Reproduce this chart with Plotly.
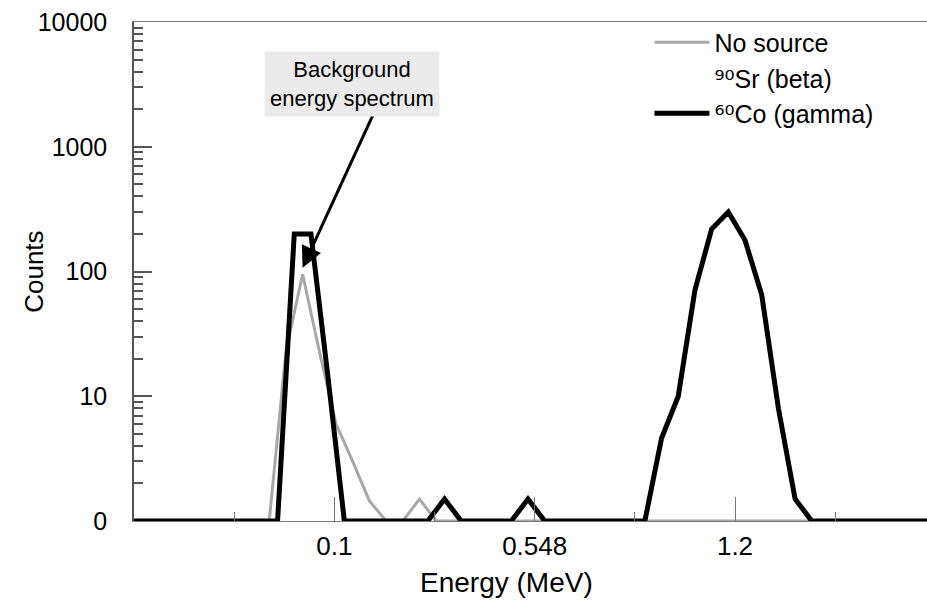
import plotly.graph_objects as go

# ---- data ----
# detector channel index for the 60Co spectrum
co_channels = [0, 1, 2, 3, 4, 5, 6, 7, 8, 9, 10, 11, 12, 13, 14, 15, 16, 17, 18, 19,
               20, 21, 22, 23, 24, 25, 26, 27, 28, 29, 30, 31, 32, 33, 34, 35, 36, 37,
               38, 39, 40, 41, 42, 43, 44, 45, 46, 47, 48]
co_counts = [0, 0, 0, 0, 0, 0, 0, 0, 0, 0, 200, 200, 15, 0, 0, 0, 0, 0, 0, 1.5,
             0, 0, 0, 0, 1.5, 0, 0, 0, 0, 0, 0, 0, 4.6, 10, 71, 219, 300, 178,
             65, 8, 1.5, 0, 0, 0, 0, 0, 0, 0, 0]

# no-source (background) spectrum, sampled half a channel offset
bg_channels = [-0.5, 0.5, 1.5, 2.5, 3.5, 4.5, 5.5, 6.5, 7.5, 8.5, 9.5, 10.5, 11.5,
               12.5, 13.5, 14.5, 15.5, 16.5, 17.5, 18.5, 19.5, 20.5, 21.5, 22.5,
               23.5, 24.5, 25.5, 26.5, 27.5, 28.5, 29.5, 30.5, 31.5, 32.5, 33.5,
               34.5, 35.5, 36.5, 37.5, 38.5, 39.5, 40.5, 41.5, 42.5, 43.5, 44.5,
               45.5, 46.5, 47.5]
bg_counts = [0, 0, 0, 0, 0, 0, 0, 0, 0, 0, 23, 95, 23, 6, 3, 1.45, 0, 0, 1.5,
             0, 0, 0, 0, 0, 0, 0, 0, 0, 0, 0, 0, 0, 0, 0, 0, 0, 0, 0, 0, 0, 0,
             0, 0, 0, 0, 0, 0, 0, 0]

SUP = "<span style='font-family:DejaVu Sans'>{}</span>"
series_names = ["No source", SUP.format("⁹⁰") + "Sr (beta)",
                SUP.format("⁶⁰") + "Co (gamma)"]

# axes
x_range = [0.4, 47.9]
x_tick_pos = [12.4, 24.4, 36.4]
x_tick_labels = ["0.1", "0.548", "1.2"]
x_minor_pos = [6.4, 18.4, 30.4, 42.4]
y_tick_vals = [1, 10, 100, 1000, 10000]
y_tick_labels = ["0", "10", "100", "1000", "10000"]
FLOOR = 1  # zero counts are drawn on the "0" baseline of the log axis

FONT = "Liberation Sans, Arial, Helvetica, sans-serif"


def floor(vals):
    return [v if v > FLOOR else FLOOR for v in vals]


fig = go.Figure()
fig.add_trace(go.Scatter(x=bg_channels, y=floor(bg_counts), mode="lines",
                         name=series_names[0],
                         line=dict(color="#a8a8a8", width=3)))
fig.add_trace(go.Scatter(x=[None], y=[None], mode="lines",
                         name=series_names[1],
                         line=dict(color="#ffffff", width=3)))
fig.add_trace(go.Scatter(x=co_channels, y=floor(co_counts), mode="lines",
                         name=series_names[2],
                         line=dict(color="#000000", width=5)))

minor_y = [m * 10 ** d for d in range(0, 4) for m in range(2, 10)]

fig.update_xaxes(range=x_range, tickmode="array", tickvals=x_tick_pos,
                 ticktext=x_tick_labels, ticks="inside", ticklen=24,
                 tickcolor="#777", tickwidth=1,
                 minor=dict(tickmode="array", tickvals=x_minor_pos,
                            ticks="inside", ticklen=9, tickcolor="#777"),
                 showline=True, linecolor="#777", linewidth=1, mirror=True,
                 showgrid=False, zeroline=False,
                 tickfont=dict(family=FONT, size=26, color="black"),
                 ticklabelstandoff=2)
fig.update_yaxes(type="log", range=[0, 4], tickmode="array",
                 tickvals=y_tick_vals, ticktext=y_tick_labels,
                 ticks="inside", ticklen=18, tickcolor="#555", tickwidth=1.5,
                 minor=dict(tickmode="array", tickvals=minor_y, ticks="inside",
                            ticklen=9, tickcolor="#555"),
                 showline=True, linecolor="#555", linewidth=1.5,
                 showgrid=False, zeroline=False,
                 tickfont=dict(family=FONT, size=25, color="black"),
                 ticklabelstandoff=20)

# axis titles
fig.add_annotation(xref="paper", yref="paper", x=-0.127, y=0.5,
                   text="Counts", textangle=-90, showarrow=False,
                   xanchor="center", yanchor="middle",
                   font=dict(family=FONT, size=26, color="black"))
fig.add_annotation(xref="paper", yref="paper", x=0.47, y=-0.124,
                   text="Energy (MeV)", showarrow=False,
                   xanchor="center", yanchor="middle",
                   font=dict(family=FONT, size=28, color="black"))

# annotation text box and its arrow
fig.add_annotation(x=10.5, y=2.03, xref="x", yref="y",
                   text="", showarrow=True, arrowhead=2, arrowsize=1.4,
                   arrowwidth=3, arrowcolor="black", ax=75, ay=-163)
fig.add_annotation(x=13.45, y=3.5, xref="x", yref="y",
                   text="Background<br>energy spectrum", showarrow=False,
                   font=dict(family=FONT, size=22, color="black"),
                   bgcolor="#ebebeb", borderpad=5)

fig.update_layout(
    width=927, height=606,
    margin=dict(l=134, r=0, t=22, b=85),
    paper_bgcolor="white", plot_bgcolor="white",
    showlegend=True,
    legend=dict(x=0.65, y=1.005, xanchor="left", yanchor="top",
                bgcolor="rgba(0,0,0,0)", itemwidth=55,
                font=dict(family=FONT, size=25, color="black"),
                tracegroupgap=0),
)

fig.write_html("out.html")
